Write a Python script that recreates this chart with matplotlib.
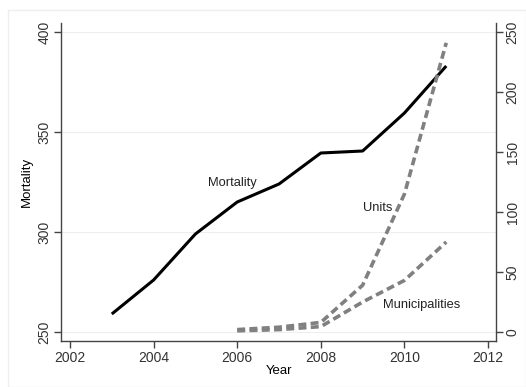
import matplotlib
matplotlib.use("Agg")
import matplotlib.pyplot as plt
from matplotlib.patches import Rectangle

plt.rcParams['font.family'] = ['Liberation Sans', 'DejaVu Sans']

years_m = [2003, 2004, 2005, 2006, 2007, 2008, 2009, 2010, 2011]
mortality = [259, 276, 299, 315, 324, 339.5, 340.5, 359.5, 383]
years_u = [2006, 2007, 2008, 2009, 2010, 2011]
units = [2, 4, 8, 39, 115, 241]
municipalities = [1, 2, 4.5, 25, 43, 75]

xticks = [2002, 2004, 2006, 2008, 2010, 2012]
lticks = [250, 300, 350, 400]
rticks = [0, 50, 100, 150, 200, 250]

W, H = 526, 387
fig = plt.figure(figsize=(W / 100, H / 100), dpi=100)
fig.patches.append(Rectangle((8 / W, 0), 1 - 8 / W, 1 - 10 / H, transform=fig.transFigure,
                             fill=False, edgecolor='#eeeeee', lw=1))
ax = fig.add_axes([61 / W, 1 - 341 / H, (496 - 61) / W, (341 - 23) / H])
ax.set_xlim(2001.785, 2012.19)
ax.set_ylim(245.5, 404.5)
ax2 = ax.twinx()
ax2.set_ylim(-7.5, 257.5)

for v in lticks:
    ax.axhline(v, color='#eeeeee', lw=0.8, zorder=0)

ax.plot(years_m, mortality, color='black', lw=2.2, solid_capstyle='butt', zorder=3)
ax2.plot(years_u, units, color='#808080', lw=2.6, dashes=(2.2, 1.2))
ax2.plot(years_u, municipalities, color='#808080', lw=2.6, dashes=(2.2, 1.2))

ax.text(2005.88, 324.5, 'Mortality', fontsize=9.3, color='#222222', ha='center', va='center')
ax2.text(2009.37, 103, 'Units', fontsize=9.3, color='#222222', ha='center', va='center')
ax2.text(2010.4, 22.5, 'Municipalities', fontsize=9.3, color='#222222', ha='center', va='center')

ax.set_xticks(xticks)
ax.set_yticks(lticks)
ax2.set_yticks(rticks)
ax.set_yticklabels([str(v) for v in lticks], rotation=90, va='center', fontsize=10)
ax2.set_yticklabels([str(v) for v in rticks], rotation=90, va='center', fontsize=10)
ax.set_xticklabels([str(v) for v in xticks], fontsize=10)
ax.set_xlabel('Year', fontsize=9.5, labelpad=0)
ax.set_ylabel('Mortality', fontsize=9.5, labelpad=3)

for a in (ax, ax2):
    a.spines['top'].set_visible(False)
    for s in ('left', 'right', 'bottom'):
        a.spines[s].set_color('#444444')
        a.spines[s].set_linewidth(1.0)
    a.tick_params(direction='out', length=5, width=1, color='#444444', labelcolor='#333333', pad=2)
ax.spines['right'].set_visible(False)
ax2.spines['left'].set_visible(False)
ax2.spines['bottom'].set_visible(False)

fig.savefig('out.png', dpi=100)
